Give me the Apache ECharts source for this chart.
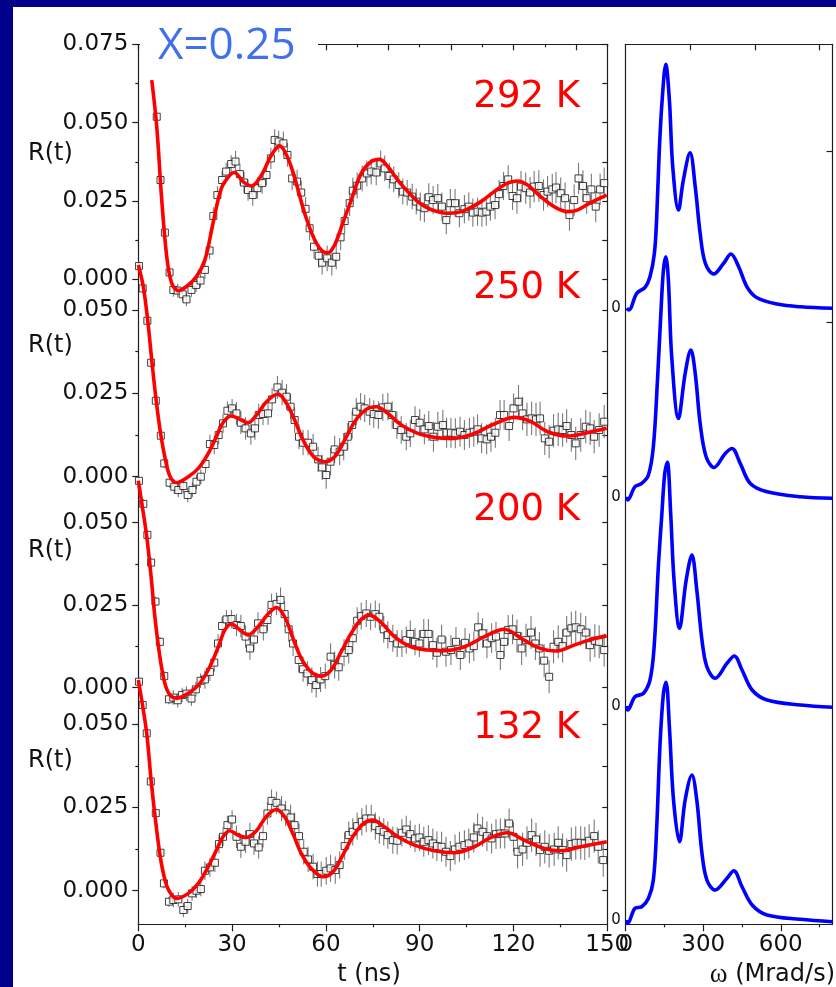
<!DOCTYPE html>
<html>
<head>
<meta charset="utf-8">
<title>R(t) X=0.25</title>
<script src="https://cdn.jsdelivr.net/npm/echarts@6/dist/echarts.min.js"></script>
<style>
  html, body { margin: 0; padding: 0; background: #00008b; }
  #paper { position: absolute; left: 13px; top: 7px; width: 823px; height: 980px; background: #fff; }
  #chart { position: absolute; left: 0; top: 0; width: 836px; height: 987px; }
</style>
</head>
<body>
<div id="paper"></div>
<div id="chart"></div>
<script>
// R(t) in units of 1e-3, t in ns
var temps = ['292 K', '250 K', '200 K', '132 K'];

var r292 = [[5.9,51.9],[7.1,31.7],[8.5,14.9],[10.0,2.2],[11.2,-3.4],[12.6,-3.6],[14.2,-4.8],[15.4,-6.4],[17.0,-3.4],[18.5,-1.8],[19.9,-0.4],[21.3,3.0],[22.8,9.2],[24.0,20.2],[25.3,26.9],[26.8,31.7],[28.1,34.4],[29.7,36.8],[31.1,37.6],[32.5,33.6],[33.8,30.9],[35.1,28.5],[36.6,26.9],[38.1,29.1],[39.6,30.7],[41.0,33.3],[42.4,38.6],[43.6,44.5],[44.9,44.0],[46.4,43.4],[47.7,39.7],[49.2,32.2],[50.8,31.2],[52.1,27.7],[53.5,22.5],[54.8,16.3],[56.2,10.4],[57.7,7.5],[58.8,5.3],[60.4,6.7],[61.9,5.3],[63.3,7.2],[64.7,13.4],[66.0,18.6],[67.6,24.3],[68.6,28.3],[70.0,29.9],[71.6,32.2],[73.1,33.8],[74.5,34.4],[76.1,34.1],[77.5,37.0],[78.8,35.4],[80.3,33.0],[81.7,31.9],[83.3,30.1],[84.6,28.0],[86.0,27.7],[87.6,26.4],[88.9,24.8],[90.2,23.2],[91.5,22.7],[92.9,26.2],[94.3,25.3],[95.8,25.9],[97.1,23.2],[98.5,18.9],[99.8,24.3],[101.3,24.3],[102.7,21.1],[104.3,22.4],[105.7,23.2],[107.0,21.3],[108.5,21.6],[109.9,21.3],[111.3,21.6],[112.6,23.2],[114.1,23.7],[115.4,27.2],[116.8,29.8],[118.3,31.9],[119.7,26.6],[121.1,25.9],[122.4,29.6],[123.9,29.1],[125.3,27.7],[126.6,29.6],[128.1,29.8],[129.6,26.9],[130.9,28.0],[132.4,28.7],[133.6,29.3],[135.1,27.5],[136.5,25.9],[137.9,20.5],[139.4,25.3],[140.8,32.2],[142.2,29.8],[143.4,25.9],[144.9,28.7],[146.3,23.2],[147.7,28.7],[149.0,30.7]];

var r250 = [[0.2,63.2],[1.4,56.5],[2.9,46.8],[4.1,34.2],[5.6,22.8],[7.2,12.3],[8.3,4.0],[10.0,-1.8],[11.5,-3.0],[12.8,-4.0],[14.4,-2.8],[15.8,-5.5],[17.3,-4.0],[18.6,-1.5],[20.0,0.0],[21.5,3.8],[22.9,9.8],[24.3,9.5],[25.7,12.5],[27.1,16.0],[28.5,19.8],[30.0,20.5],[31.4,19.0],[32.8,16.2],[34.3,14.5],[36.0,13.0],[37.3,14.5],[38.5,18.5],[39.9,18.8],[41.5,19.0],[42.8,23.2],[44.5,26.8],[46.0,25.2],[47.4,24.0],[48.7,21.0],[50.0,17.0],[51.4,12.0],[52.7,10.2],[54.3,10.2],[55.9,9.0],[57.5,5.2],[58.8,2.8],[60.1,0.5],[61.5,4.5],[62.8,8.2],[64.4,7.5],[65.7,9.0],[67.0,12.0],[68.4,15.5],[69.7,19.5],[71.1,21.0],[72.4,20.5],[74.0,19.5],[75.3,18.8],[76.8,18.5],[78.2,20.8],[79.8,21.0],[81.2,18.5],[82.7,15.5],[84.1,14.0],[85.7,12.0],[87.0,13.0],[88.5,17.0],[90.0,16.2],[91.5,14.2],[92.9,15.2],[94.4,12.0],[95.8,15.0],[97.4,15.5],[98.6,13.2],[100.0,13.2],[101.4,13.0],[102.9,13.5],[104.3,12.5],[105.9,13.2],[107.3,13.5],[108.5,14.2],[109.8,11.5],[111.4,11.2],[112.8,12.0],[114.2,13.2],[115.7,18.5],[117.0,18.5],[118.6,15.2],[120.0,20.5],[121.6,22.5],[122.9,19.0],[124.3,17.2],[125.8,17.5],[127.2,17.2],[128.5,17.5],[130.0,11.5],[131.4,10.5],[132.8,13.8],[134.3,14.2],[135.7,14.0],[137.0,15.2],[138.5,12.5],[139.9,10.0],[141.5,12.5],[143.1,15.0],[144.5,14.5],[145.8,12.0],[147.4,14.0],[149.0,16.5]];

var r200 = [[0.2,62.7],[1.6,55.7],[2.9,46.3],[4.1,37.9],[5.5,26.1],[6.9,13.9],[8.3,3.5],[9.8,-3.5],[11.2,-3.0],[12.6,-3.8],[14.0,-2.2],[15.4,-1.8],[17.0,-3.3],[18.4,-0.5],[19.9,2.1],[21.3,2.5],[22.9,4.8],[24.3,7.6],[25.5,13.4],[26.8,18.7],[28.2,20.7],[29.8,20.8],[31.4,19.0],[32.8,18.7],[34.3,15.5],[35.7,11.9],[37.0,14.6],[38.3,19.5],[40.0,17.7],[41.3,20.5],[42.6,25.1],[44.2,25.4],[45.5,26.6],[46.8,22.3],[48.1,17.7],[49.5,13.4],[51.3,8.4],[52.7,5.6],[54.1,4.3],[55.5,2.3],[56.9,0.8],[58.3,2.5],[59.8,3.5],[61.5,9.4],[62.8,6.9],[64.1,6.2],[65.8,10.6],[67.3,11.4],[68.6,15.0],[70.0,20.3],[71.3,21.7],[72.9,22.5],[74.3,21.5],[75.8,22.3],[77.1,21.5],[78.5,17.7],[79.8,16.0],[81.4,15.0],[82.8,13.4],[84.3,13.4],[85.7,14.4],[87.0,16.3],[88.5,13.9],[89.9,13.4],[91.3,16.3],[92.8,16.3],[94.2,12.9],[95.5,10.6],[97.0,14.6],[98.4,10.9],[100.0,11.4],[101.6,13.9],[103.0,9.9],[104.5,13.6],[105.9,11.9],[107.3,12.6],[108.7,18.3],[110.1,16.5],[111.5,13.4],[113.0,15.0],[114.4,15.5],[115.8,9.9],[117.0,13.9],[118.3,17.5],[119.7,17.7],[121.1,15.7],[122.6,11.9],[124.0,14.4],[125.6,16.7],[127.0,13.4],[128.3,11.9],[129.8,8.2],[131.4,3.3],[132.8,12.4],[134.3,13.9],[135.7,12.6],[137.0,16.7],[138.5,18.0],[139.9,18.3],[141.5,17.7],[143.1,16.7],[144.5,12.9],[146.0,14.2],[147.4,13.9],[149.0,11.4]];

var r132 = [[0.2,62.8],[1.4,55.8],[2.7,47.3],[4.0,32.8],[5.6,23.3],[7.1,11.4],[8.2,2.2],[9.8,-3.3],[11.2,-2.8],[12.8,-2.6],[14.4,-5.8],[15.8,-4.6],[17.2,-0.8],[18.6,0.0],[20.0,0.5],[21.3,6.0],[22.9,7.0],[24.5,8.4],[25.8,14.0],[27.1,16.2],[28.5,19.7],[30.0,21.4],[31.4,16.2],[32.8,13.2],[34.3,14.7],[35.7,17.0],[37.0,14.2],[38.5,13.0],[39.9,16.4],[41.3,23.2],[42.6,27.0],[44.2,26.4],[45.8,24.7],[47.1,23.2],[48.7,22.0],[50.0,19.7],[51.4,16.4],[52.9,11.7],[54.3,9.4],[55.9,7.2],[57.3,5.0],[58.5,5.0],[60.1,6.0],[61.5,6.7],[63.0,6.2],[64.4,7.7],[66.0,13.4],[67.3,16.7],[68.6,17.7],[70.0,19.4],[71.5,20.7],[72.9,21.7],[74.5,21.7],[75.8,19.4],[77.1,18.2],[78.5,17.7],[79.8,16.7],[81.4,15.2],[82.8,15.0],[84.3,17.4],[85.7,18.4],[87.0,17.0],[88.5,15.7],[89.9,16.0],[91.3,14.7],[92.8,15.2],[94.2,14.2],[95.5,13.4],[97.0,13.2],[98.4,11.7],[99.8,10.4],[101.3,12.4],[102.7,13.2],[104.3,13.7],[105.7,14.2],[107.3,16.0],[108.5,18.7],[110.1,17.7],[111.5,16.4],[113.0,15.7],[114.4,17.0],[115.8,17.2],[117.2,17.2],[118.6,20.2],[120.0,16.2],[121.3,11.7],[122.9,12.4],[124.3,14.4],[125.8,16.7],[127.2,15.4],[128.5,12.2],[130.0,13.2],[131.4,12.0],[133.0,12.4],[134.3,14.4],[135.7,12.2],[137.0,10.7],[138.5,14.0],[139.9,14.4],[141.5,14.4],[142.8,14.2],[144.2,15.0],[145.8,16.4],[147.1,13.2],[148.7,9.2]];

// fitted curves, same units
var fit292 = [[4.3,63.6],[5.9,48.7],[7.5,25.3],[9.1,7.2],[10.7,-1.3],[12.8,-3.6],[15.4,-2.3],[18.6,0.9],[21.3,6.2],[23.9,17.9],[26.6,29.1],[29.3,33.3],[30.7,34.1],[33.5,31.2],[36.2,29.8],[39.4,33.3],[42.6,39.7],[45.2,42.6],[47.9,38.6],[50.5,30.7],[53.2,21.1],[56.4,12.6],[59.1,8.8],[60.7,8.5],[62.8,11.0],[65.4,17.9],[68.1,25.3],[71.3,33.8],[74.5,37.6],[77.1,38.3],[79.8,36.0],[83.0,31.7],[86.2,28.0],[89.4,24.8],[92.6,22.7],[95.8,21.6],[99.0,21.1],[102.1,21.3],[105.3,22.4],[109.6,24.8],[113.8,28.0],[118.1,30.7],[121.3,31.4],[124.5,30.1],[128.7,26.4],[133.0,23.2],[137.3,21.6],[140.4,22.1],[144.7,24.5],[149.8,26.9]];
var fit250 = [[0,63.5],[1.6,57.0],[3.0,47.0],[4.3,35.0],[5.7,23.0],[7.2,12.5],[8.7,5.0],[10.2,0.0],[12.3,-1.8],[16.0,0.0],[19.2,2.5],[21.8,6.0],[24.5,11.0],[27.1,16.2],[29.8,18.2],[32.5,17.2],[35.1,16.2],[37.8,18.5],[41.0,22.5],[44.7,24.8],[47.4,22.0],[50.0,17.0],[52.7,11.0],[55.9,6.2],[59.6,4.5],[62.8,6.0],[66.0,11.0],[69.2,16.5],[72.9,20.2],[76.1,21.0],[79.8,19.0],[84.1,15.5],[89.4,13.0],[94.7,11.8],[101.1,11.5],[107.5,13.0],[113.8,15.8],[120.2,17.8],[125.6,16.5],[130.9,13.5],[137.3,12.2],[143.6,13.2],[149.8,14.5]];
var fit200 = [[0,62.7],[1.3,54.8],[2.7,45.8],[4.1,33.6],[5.3,21.5],[6.9,9.4],[8.5,1.3],[10.1,-2.2],[12.2,-3.2],[16.0,-1.7],[19.7,1.3],[22.9,6.4],[25.6,12.4],[27.7,17.5],[29.8,19.3],[32.5,17.5],[35.1,16.0],[38.3,18.5],[41.5,22.3],[44.2,24.3],[46.8,21.5],[49.5,14.9],[52.1,8.9],[55.3,4.8],[58.5,3.5],[61.7,5.4],[64.9,10.9],[68.1,16.5],[71.3,20.7],[74.0,22.0],[77.7,19.7],[81.9,15.5],[87.2,12.4],[92.6,11.4],[97.9,11.2],[104.3,12.4],[110.7,15.5],[117.0,17.7],[123.4,14.4],[128.7,11.9],[133.5,11.1],[139.4,12.9],[144.7,14.6],[149.8,15.7]];
var fit132 = [[0,63.3],[1.1,57.2],[2.7,47.2],[4.1,33.2],[5.5,21.2],[7.2,9.2],[9.0,1.7],[10.7,-1.3],[12.3,-2.3],[16.0,-0.8],[19.2,2.2],[21.8,6.2],[24.5,11.2],[27.1,16.2],[29.3,18.0],[31.9,16.7],[34.6,16.0],[37.8,18.0],[41.0,22.4],[44.2,24.4],[46.8,22.2],[49.5,17.0],[52.1,11.2],[55.3,6.7],[59.1,4.2],[62.3,5.7],[65.4,10.7],[68.6,16.2],[71.8,20.0],[75.0,21.2],[78.7,19.2],[83.0,16.2],[88.3,13.7],[94.7,12.0],[101.1,11.4],[107.5,13.2],[112.8,16.0],[118.1,17.4],[123.4,15.2],[129.8,12.7],[135.1,12.0],[141.5,13.2],[149.8,14.7]];

// frequency spectra, omega in Mrad/s, arbitrary intensity
var spec292 = [[4,0],[12,-0.007],[43,0.06],[75,0.084],[94,0.126],[111,0.22],[120,0.366],[130,0.633],[141,0.833],[155,0.976],[169,0.833],[182,0.566],[204,0.393],[223,0.513],[249,0.622],[269,0.486],[288,0.30],[308,0.18],[340,0.137],[379,0.18],[407,0.217],[437,0.166],[469,0.086],[508,0.042],[586,0.017],[676,0.006],[800,0]];
var spec250 = [[4,0],[8,-0.013],[36,0.04],[62,0.053],[88,0.087],[107,0.2],[123,0.467],[136,0.733],[146,0.907],[155,0.96],[165,0.867],[178,0.56],[204,0.313],[230,0.493],[252,0.587],[269,0.493],[288,0.293],[311,0.16],[342,0.117],[385,0.173],[411,0.193],[443,0.133],[482,0.053],[547,0.02],[676,0],[800,-0.006]];
var spec200 = [[4,0],[8,-0.016],[36,0.037],[68,0.05],[94,0.104],[110,0.237],[127,0.57],[140,0.77],[151,0.93],[161,0.975],[174,0.77],[187,0.504],[208,0.311],[234,0.504],[256,0.604],[275,0.464],[295,0.264],[314,0.157],[346,0.111],[392,0.171],[420,0.2],[450,0.144],[489,0.064],[547,0.024],[676,0.004],[800,-0.005]];
var spec132 = [[4,0],[8,-0.013],[36,0.047],[62,0.053],[88,0.087],[107,0.16],[120,0.373],[133,0.707],[146,0.907],[156,0.951],[169,0.773],[185,0.48],[208,0.313],[230,0.48],[256,0.58],[275,0.48],[295,0.267],[314,0.16],[346,0.12],[392,0.167],[418,0.197],[450,0.133],[489,0.06],[547,0.02],[676,0.003],[800,-0.007]];

// error bar half-length (1e-3) by time range (upper edge, ns)
var errEdges = [10, 20, 30, 45, 60, 90, 120, 150];
var errSize = [1.5, 2.2, 2.8, 3.4, 3.8, 4.1, 4.5, 5.0];

// tick values
var tMajor = [0, 30, 60, 90, 120, 150];
var tMinor = [15, 45, 75, 105, 135];
var tTopMajor = [0, 20, 40, 60, 80, 100, 120, 140];
var tTopMinor = [10, 30, 50, 70, 90, 110, 130, 150];
var wMajor = [0, 300, 600];
var wMinor = [150, 450, 750];
var wTop = [250, 500, 750];
var rMajor = [0, 0.025, 0.05];
var rMinor = [0.0125, 0.0375];

var rData = [r292, r250, r200, r132];
var fits = [fit292, fit250, fit200, fit132];
var specs = [spec292, spec250, spec200, spec132];

// layout (page pixels)
var LEFT = { x0: 138.3, x1: 607.3 };
var RIGHT = { x0: 625.7, x1: 832.5 };
var leftRows = [
  { top: 44.3, bottom: 300, zeroY: 279.3, px: 3132, labelY: 97.7, nameY: 154 },
  { top: 300, bottom: 505, zeroY: 476.7, px: 3333, labelY: 288.3, nameY: 346 },
  { top: 505, bottom: 712, zeroY: 687.7, px: 3300, labelY: 510, nameY: 551 },
  { top: 712, bottom: 924.3, zeroY: 890.7, px: 3328, labelY: 728, nameY: 760.5 }
];
var rightRows = [
  { top: 44.3, bottom: 322, zeroY: 308.3, tickY: 151.7 },
  { top: 322, bottom: 532, zeroY: 496.7, tickY: 322.7 },
  { top: 532, bottom: 746, zeroY: 706, tickY: 531.7 },
  { top: 746, bottom: 924.3, zeroY: 920, tickY: 745.7 }
];
var specPx = 250;

var FONT = 'DejaVu Sans';
var axisCol = '#1e1e1e';

function errFor(t) {
  for (var k = 0; k < errEdges.length; k++) if (t <= errEdges[k]) return errSize[k];
  return errSize[errSize.length - 1];
}

function axLine(show) {
  return { show: show, onZero: false, lineStyle: { color: axisCol, width: 1.2 } };
}
function ticks(values, len, inside) {
  return { show: true, inside: !!inside, length: len, customValues: values, lineStyle: { color: axisCol, width: 1.2 } };
}
function noLabel() { return { show: false }; }

var grids = [], xAxes = [], yAxes = [], series = [];

leftRows.forEach(function (row, i) {
  var g = grids.length;
  grids.push({ left: LEFT.x0, top: row.top, width: LEFT.x1 - LEFT.x0, height: row.bottom - row.top,
    containLabel: false, outerBoundsMode: 'none' });
  var yMin = (row.zeroY - row.bottom) / row.px;
  var yMax = (row.zeroY - row.top) / row.px;
  var majors = i === 0 ? rMajor.concat([0.075]) : rMajor;
  var minors = i === 0 ? rMinor.concat([0.0625]) : rMinor;

  var xi = xAxes.length;
  var xMain = { type: 'value', gridIndex: g, min: 0, max: 150, splitLine: { show: false } };
  if (i === 0) {
    xMain.position = 'top';
    xMain.axisLine = axLine(true);
    xMain.axisTick = ticks(tTopMajor, 6, true);
    xMain.axisLabel = noLabel();
  } else if (i === 3) {
    xMain.position = 'bottom';
    xMain.axisLine = axLine(true);
    xMain.axisTick = ticks(tMajor, 7, false);
    xMain.axisLabel = { customValues: tMajor, fontFamily: FONT, fontSize: 23, color: '#111', margin: 9 };
  } else {
    xMain.show = false;
  }
  xAxes.push(xMain);
  if (i === 0 || i === 3) {
    xAxes.push({ type: 'value', gridIndex: g, min: 0, max: 150, position: i === 0 ? 'top' : 'bottom',
      axisLine: axLine(false), axisTick: ticks(i === 0 ? tTopMinor : tMinor, 3, i === 0),
      axisLabel: noLabel(), splitLine: { show: false } });
  }

  var yi = yAxes.length;
  yAxes.push({ type: 'value', gridIndex: g, min: yMin, max: yMax, position: 'left',
    axisLine: axLine(true), axisTick: ticks(majors, 6, false),
    axisLabel: { customValues: majors, formatter: function (v) { return v.toFixed(3); },
      fontFamily: FONT, fontSize: 23, color: '#111', margin: 10 },
    splitLine: { show: false } });
  yAxes.push({ type: 'value', gridIndex: g, min: yMin, max: yMax, position: 'left',
    axisLine: axLine(false), axisTick: ticks(minors, 3, false), axisLabel: noLabel(), splitLine: { show: false } });
  yAxes.push({ type: 'value', gridIndex: g, min: yMin, max: yMax, position: 'right',
    axisLine: axLine(true), axisTick: ticks(majors.concat(minors), 5, true), axisLabel: noLabel(), splitLine: { show: false } });

  var pts = rData[i].map(function (p) { return [p[0], p[1] / 1000, errFor(p[0]) / 1000]; });

  series.push({
    type: 'custom', name: temps[i] + ' err', xAxisIndex: xi, yAxisIndex: yi, clip: false, silent: true, z: 1,
    encode: { x: 0, y: 1 },
    data: pts,
    renderItem: function (params, api) {
      var a = api.coord([api.value(0), api.value(1) - api.value(2)]);
      var b = api.coord([api.value(0), api.value(1) + api.value(2)]);
      return { type: 'line', shape: { x1: a[0], y1: a[1], x2: b[0], y2: b[1] },
        style: { stroke: '#7a7a7a', lineWidth: 1.1 } };
    }
  });
  series.push({
    type: 'scatter', name: temps[i], xAxisIndex: xi, yAxisIndex: yi, clip: false, silent: true, z: 2,
    symbol: 'rect', symbolSize: 7,
    itemStyle: { color: '#fff', borderColor: '#111', borderWidth: 1 },
    data: pts.map(function (p) { return [p[0], p[1]]; })
  });
  series.push({
    type: 'line', name: temps[i] + ' fit', xAxisIndex: xi, yAxisIndex: yi, clip: false, silent: true, z: 3,
    smooth: 0.35, showSymbol: false,
    lineStyle: { color: '#ff0000', width: 3.6 },
    data: fits[i].map(function (p) { return [p[0], p[1] / 1000]; })
  });
});

rightRows.forEach(function (row, i) {
  var g = grids.length;
  grids.push({ left: RIGHT.x0, top: row.top, width: RIGHT.x1 - RIGHT.x0, height: row.bottom - row.top,
    containLabel: false, outerBoundsMode: 'none' });
  var yMin = (row.zeroY - row.bottom) / specPx;
  var yMax = (row.zeroY - row.top) / specPx;

  var xi = xAxes.length;
  var xMain = { type: 'value', gridIndex: g, min: 0, max: 800, splitLine: { show: false } };
  if (i === 0) {
    xMain.position = 'top';
    xMain.axisLine = axLine(true);
    xMain.axisTick = ticks(wTop, 6, true);
    xMain.axisLabel = noLabel();
  } else if (i === 3) {
    xMain.position = 'bottom';
    xMain.axisLine = axLine(true);
    xMain.axisTick = ticks(wMajor, 7, false);
    xMain.axisLabel = { customValues: wMajor, fontFamily: FONT, fontSize: 23, color: '#111', margin: 9 };
  } else {
    xMain.show = false;
  }
  xAxes.push(xMain);
  if (i === 3) {
    xAxes.push({ type: 'value', gridIndex: g, min: 0, max: 800, position: 'bottom',
      axisLine: axLine(false), axisTick: ticks(wMinor, 3, false), axisLabel: noLabel(), splitLine: { show: false } });
  }

  var yi = yAxes.length;
  yAxes.push({ type: 'value', gridIndex: g, min: yMin, max: yMax, position: 'left',
    axisLine: axLine(true), axisTick: { show: false },
    axisLabel: { customValues: [0], fontFamily: FONT, fontSize: 15, color: '#111', margin: 5 },
    splitLine: { show: false } });
  yAxes.push({ type: 'value', gridIndex: g, min: yMin, max: yMax, position: 'right',
    axisLine: axLine(true), axisTick: ticks([(row.zeroY - row.tickY) / specPx], 6, true),
    axisLabel: noLabel(), splitLine: { show: false } });

  series.push({
    type: 'line', name: temps[i] + ' spectrum', xAxisIndex: xi, yAxisIndex: yi, clip: false, silent: true, z: 3,
    smooth: 0.35, showSymbol: false,
    lineStyle: { color: '#0000ff', width: 3.6 },
    data: specs[i]
  });
});

var graphic = [
  { type: 'rect', shape: { x: 140, y: 36, width: 178, height: 16 }, style: { fill: '#fff' }, z: 50 },
  { type: 'text', x: 158, y: 46, z: 60,
    style: { text: 'X=0.25', fill: '#4170ee', fontFamily: 'Open Sans', fontSize: 44, align: 'left', verticalAlign: 'middle' } },
  { type: 'text', x: 369, y: 975, z: 60,
    style: { text: 't (ns)', fill: '#111', fontFamily: FONT, fontSize: 24, align: 'center', verticalAlign: 'middle' } },
  { type: 'text', x: 835, y: 975, z: 60,
    style: { text: '{w|ω} (Mrad/s)', fill: '#111', fontFamily: FONT, fontSize: 24, align: 'right', verticalAlign: 'middle',
      rich: { w: { fontFamily: 'Liberation Serif', fontSize: 27, fill: '#111' } } } }
];
leftRows.forEach(function (row, i) {
  graphic.push({ type: 'text', x: 580, y: row.labelY, z: 60,
    style: { text: temps[i], fill: '#ff0000', fontFamily: FONT, fontSize: 37, align: 'right', verticalAlign: 'middle' } });
  graphic.push({ type: 'text', x: 28, y: row.nameY, z: 60,
    style: { text: 'R(t)', fill: '#111', fontFamily: FONT, fontSize: 24, align: 'left', verticalAlign: 'middle' } });
});

var chart = echarts.init(document.getElementById('chart'));
chart.setOption({
  backgroundColor: 'transparent',
  animation: false,
  grid: grids,
  xAxis: xAxes,
  yAxis: yAxes,
  series: series,
  graphic: graphic
});
</script>
</body>
</html>
